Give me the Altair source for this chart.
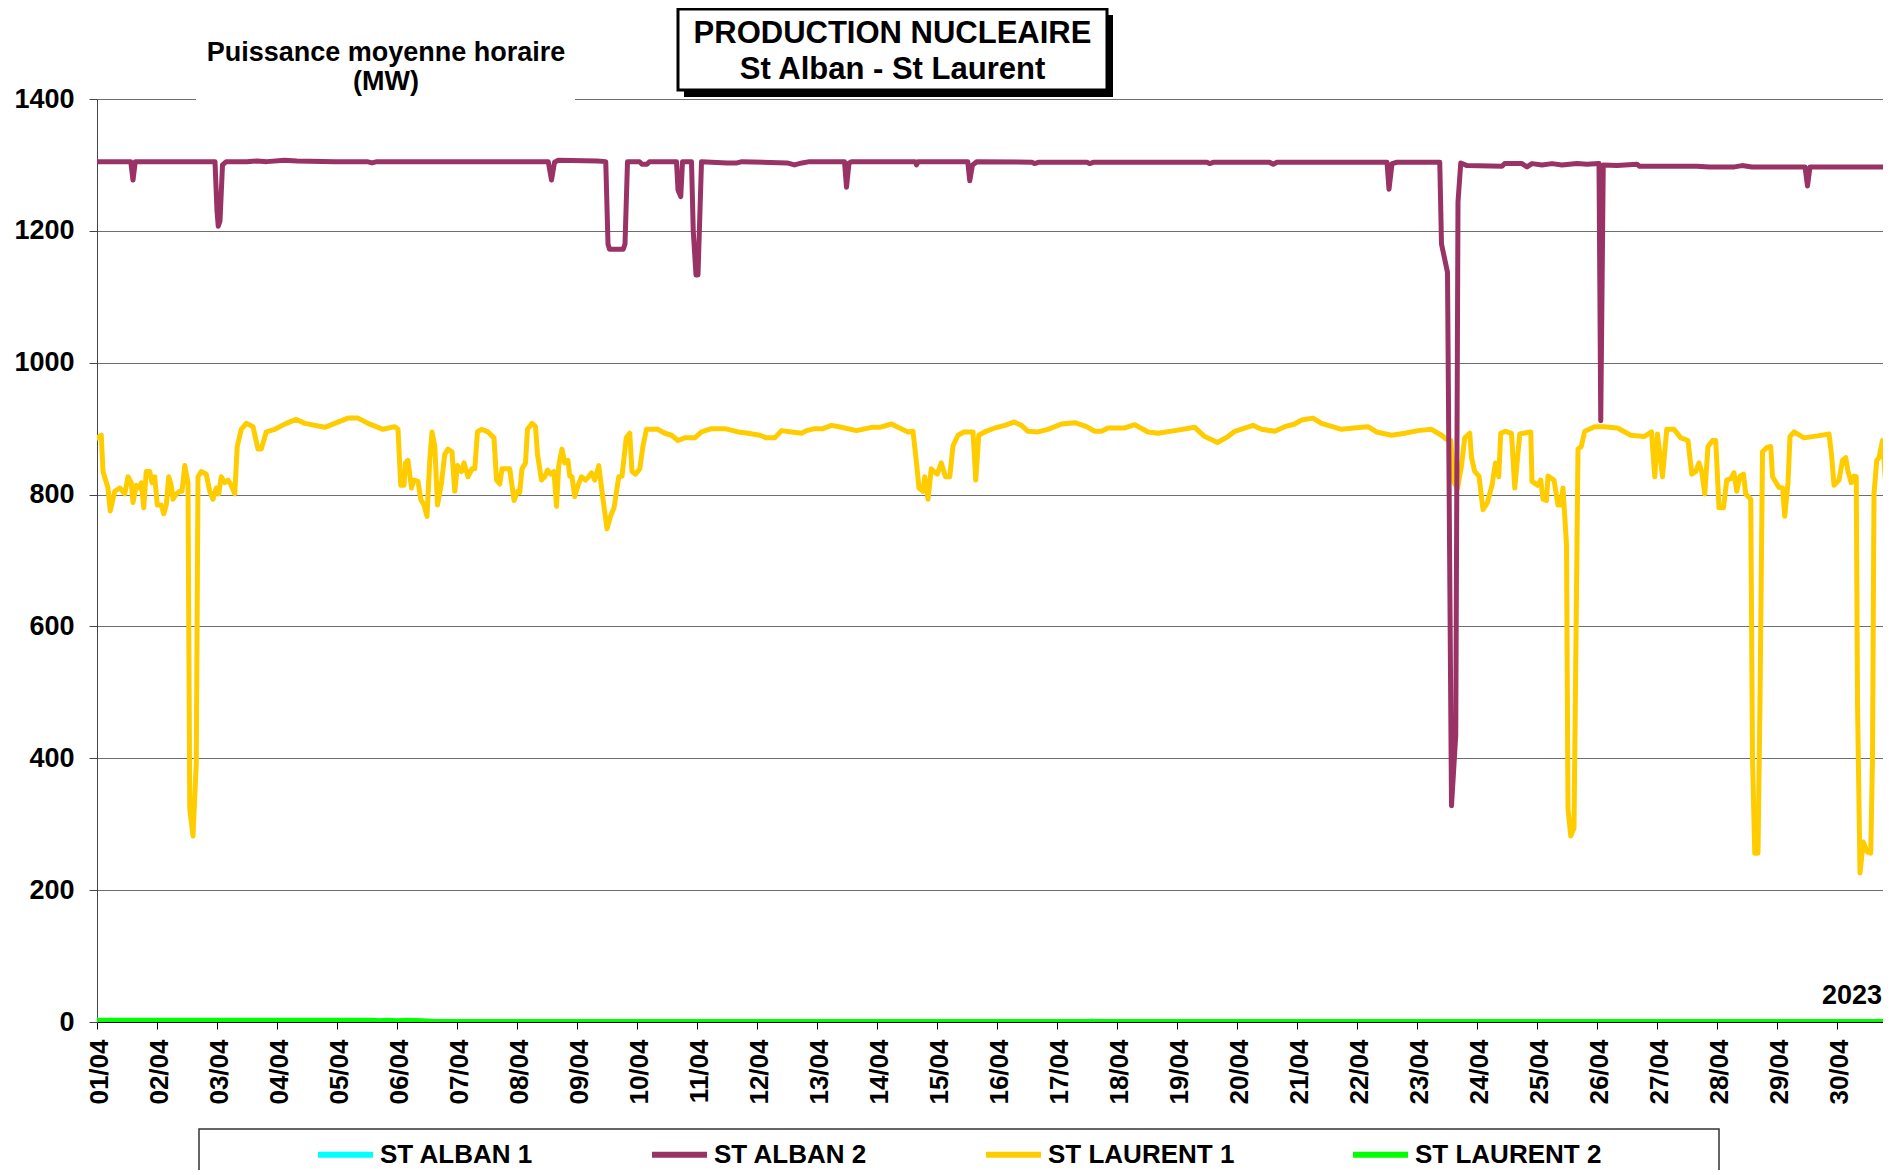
import json
import altair as alt
import pandas as pd

# ---------------- data ----------------
SERIES = ["ST ALBAN 1", "ST ALBAN 2", "ST LAURENT 1", "ST LAURENT 2"]
COLORS = ["#00FFFF", "#993366", "#FFCC00", "#00FF00"]

DAY_LABELS = ["01/04", "02/04", "03/04", "04/04", "05/04", "06/04", "07/04", "08/04",
              "09/04", "10/04", "11/04", "12/04", "13/04", "14/04", "15/04", "16/04",
              "17/04", "18/04", "19/04", "20/04", "21/04", "22/04", "23/04", "24/04",
              "25/04", "26/04", "27/04", "28/04", "29/04", "30/04"]
DAY_TICKS_H = [0, 24, 48, 72, 96, 120, 144, 168, 192, 216, 240, 264, 288, 312, 336,
               360, 384, 408, 432, 456, 480, 504, 528, 552, 576, 600, 624, 648, 672, 696]
Y_TICKS = [0, 200, 400, 600, 800, 1000, 1200, 1400]
YEAR_LABEL = "2023"
TITLE_LINES = ["PRODUCTION NUCLEAIRE", "St Alban - St Laurent"]
SUBTITLE_LINES = ["Puissance moyenne horaire", "(MW)"]

# (hour since 01/04 00:00, MW)
st_alban_1 = [(0, 0), (396, 0), (398, 2), (400, 0), (720, 0)]

st_alban_2 = [
    (0, 1305), (13.5, 1305), (14.4, 1277), (15.3, 1305), (47.2, 1305), (48.0, 1230),
    (48.5, 1207), (49.2, 1215), (50.2, 1300), (51.7, 1305), (60, 1305), (64, 1306),
    (68, 1305), (75, 1307), (80, 1306), (95, 1305), (108, 1305), (110, 1303), (112, 1305),
    (180.5, 1305), (181.8, 1277), (183, 1304), (184.5, 1307), (200, 1306), (203.5, 1305),
    (204.4, 1180), (205, 1172), (210.5, 1172), (211.2, 1180), (212.2, 1305), (217, 1305),
    (218, 1301), (220, 1301), (221, 1305), (231.8, 1305), (232.4, 1262), (233.5, 1252),
    (234.2, 1305), (237.8, 1305), (238.5, 1200), (239.6, 1133), (240.4, 1133),
    (241.8, 1305), (252, 1303), (256, 1303), (258, 1305), (276, 1303), (279, 1300),
    (282, 1303), (285, 1305), (299, 1305), (299.8, 1266), (300.8, 1303), (302, 1305),
    (327.3, 1305), (327.8, 1300), (328.5, 1305), (348.3, 1305), (349.1, 1276),
    (350.2, 1300), (352, 1305), (374, 1304), (375, 1302), (376.5, 1304), (396, 1304),
    (397, 1302), (398.5, 1304), (444, 1304), (445, 1302), (446.5, 1304), (469, 1304),
    (470.5, 1301), (472, 1304), (516, 1304), (516.8, 1263), (518, 1302), (520, 1304),
    (537.1, 1304), (537.8, 1180), (540.2, 1137), (541.8, 328), (543.5, 435),
    (544.4, 1244), (545.5, 1303), (548, 1299), (562, 1298), (563, 1302), (570, 1302),
    (572, 1297), (574, 1302), (578, 1300), (582, 1302), (586, 1300), (592, 1302),
    (596, 1301), (600.8, 1302), (601.5, 912), (602.5, 1300), (608, 1299), (616, 1301),
    (617, 1298), (640, 1298), (645, 1297), (655, 1297), (658, 1299), (662, 1297),
    (683.2, 1297), (684.2, 1268), (685.2, 1297), (717.5, 1297),
]

st_laurent_1 = [
    (0.1, 886), (1.7, 890), (2.4, 835), (4.4, 810), (5.3, 775), (7.1, 805), (9.1, 810),
    (11.1, 801), (12.4, 827), (13.7, 818), (14.4, 788), (15.7, 814), (17.1, 810),
    (17.7, 818), (18.7, 780), (19.7, 835), (21.1, 835), (22.0, 818), (23.1, 827),
    (24.1, 784), (25.7, 784), (26.7, 771), (27.7, 784), (28.7, 827), (29.7, 814),
    (30.4, 793), (31.7, 801), (33.1, 805), (34.0, 805), (35.1, 844), (36.4, 818),
    (37.1, 324), (38.4, 282), (39.7, 392), (40.4, 827), (41.7, 835), (43.7, 831),
    (45.1, 805), (46.4, 793), (47.7, 810), (48.7, 801), (49.7, 827), (51.1, 818),
    (52.4, 822), (53.7, 814), (55.1, 801), (56.1, 873), (57.7, 899), (59.7, 908),
    (62.4, 903), (64.4, 869), (65.7, 869), (67.7, 895), (71.1, 899), (75.7, 908),
    (79.7, 914), (83.1, 908), (91.1, 902), (95.1, 908), (100.4, 916), (104.4, 916),
    (108.4, 908), (114.4, 899), (119.1, 903),
    (120.4, 899), (121.5, 814), (122.8, 814), (123.4, 848), (124.4, 852), (125.8, 810),
    (126.8, 822), (128.4, 820), (129.5, 793), (130.8, 784), (132.0, 767), (133.1, 852),
    (134.0, 895), (135.1, 874), (136.2, 784), (137.8, 818), (139.1, 861), (140.4, 869),
    (142.0, 865), (143.1, 805), (144.2, 844), (145.8, 835), (146.8, 848), (148.4, 827),
    (150.0, 839), (151.1, 839), (152.2, 895), (153.8, 899), (156.4, 895), (158.8, 886),
    (159.8, 822), (161.1, 816), (162.0, 839), (165.1, 839), (166.8, 791), (168.2, 805),
    (169.1, 803), (170.0, 839), (171.4, 848), (172.2, 899), (174.0, 908), (175.4, 903),
    (176.2, 861), (177.8, 822), (179.1, 827), (180.2, 837), (181.5, 831), (182.8, 835),
    (183.8, 782), (184.7, 844), (186.0, 869), (187.1, 848), (188.4, 852), (189.1, 828),
    (190.0, 827), (191.1, 797), (192.4, 814), (193.8, 827), (195.4, 822), (196.7, 827),
    (197.8, 833), (199.1, 822), (200.7, 844), (202.4, 793), (204.0, 748), (205.4, 767),
    (206.8, 780), (208.7, 827), (210.0, 828), (211.7, 886), (213.1, 893), (214.0, 835),
    (215.4, 831), (217.1, 839), (218.4, 874), (219.8, 899), (224.4, 899), (227.1, 893),
    (229.8, 890), (232.4, 882), (235.1, 886), (239.1, 886),
    (241.8, 895), (245.8, 900), (251.1, 900), (256.4, 895), (260.4, 893), (265.1, 890),
    (267.8, 886), (271.1, 886), (273.8, 897), (277.8, 895), (281.8, 893), (283.8, 897),
    (287.1, 900), (290.4, 900), (293.8, 905), (297.8, 902), (303.8, 897), (309.8, 902),
    (313.1, 902), (317.8, 907), (320.4, 902), (324.4, 895), (326.4, 896), (327.8, 848),
    (328.8, 810), (330.4, 805), (331.1, 827), (332.4, 793), (333.7, 839), (334.8, 835),
    (336.1, 831), (337.7, 848), (339.4, 827), (341.1, 827), (342.4, 874), (344.4, 890),
    (346.8, 895), (350.4, 895), (351.5, 822), (352.7, 890), (355.1, 895), (359.1, 901),
    (363.1, 905), (366.8, 910), (369.8, 905), (372.4, 896), (376.4, 895), (380.4, 899),
    (385.8, 907), (391.1, 909), (395.8, 903), (399.1, 896), (401.8, 896), (404.4, 901),
    (411.1, 901), (415.1, 906), (420.4, 895), (424.4, 893), (431.1, 897), (439.1, 902),
    (443.1, 888), (448.2, 879), (452.4, 888), (455.1, 896), (462.4, 905), (465.8, 899),
    (471.1, 896), (475.1, 903), (479.1, 907),
    (481.8, 913), (486.4, 916), (489.8, 908), (497.8, 899), (505.8, 902), (508.4, 903),
    (511.8, 895), (517.8, 890), (523.1, 893), (528.4, 897), (533.8, 899), (537.8, 890),
    (539.8, 884), (541.5, 882), (542.8, 818), (544.2, 810), (545.8, 844), (547.1, 886),
    (549.1, 893), (549.8, 856), (551.1, 835), (552.8, 828), (554.4, 777), (556.2, 788),
    (558.0, 814), (559.4, 848), (560.7, 827), (561.5, 893), (563.4, 896), (565.8, 893),
    (567.1, 810), (569.1, 892), (573.5, 895), (574.0, 820), (576.2, 814), (577.5, 822),
    (578.4, 793), (579.8, 791), (580.4, 828), (582.8, 822), (584.4, 784), (585.4, 784),
    (586.4, 810), (587.8, 724), (588.4, 324), (589.5, 282), (590.8, 294), (592.4, 869),
    (593.7, 873), (595.1, 896), (599.1, 903),
    (602.8, 903), (608.2, 901), (613.5, 890), (618.8, 888), (621.8, 895), (623.1, 827),
    (624.2, 892), (626.2, 827), (627.9, 899), (630.8, 899), (633.5, 886), (636.4, 882),
    (637.9, 831), (639.5, 835), (640.8, 848), (641.9, 835), (643.1, 801), (644.4, 873),
    (646.2, 882), (647.5, 882), (648.8, 780), (650.6, 780), (651.9, 822), (653.5, 824),
    (654.8, 833), (655.9, 805), (657.2, 828), (658.6, 831), (659.5, 801), (661.5, 793),
    (662.2, 401), (663.1, 256), (664.4, 256), (665.2, 486), (666.2, 865), (667.8, 871),
    (669.5, 873), (670.2, 827), (672.8, 811), (674.2, 810), (675.1, 767), (676.4, 818),
    (677.2, 888), (678.8, 895), (682.8, 886), (688.2, 889), (692.8, 892), (693.8, 861),
    (694.8, 814), (696.8, 822), (698.2, 852), (699.5, 856), (700.4, 835), (701.7, 818),
    (702.8, 828), (703.7, 827), (704.2, 486), (705.2, 226), (706.5, 273), (708.1, 258),
    (709.5, 256), (710.2, 401), (710.8, 801), (711.9, 852), (712.8, 856), (714.2, 882),
    (715.5, 816), (717.5, 816),
]

st_laurent_2 = [(0, 3), (110, 3), (113, 2), (116, 3), (120, 2), (124, 3), (130, 2),
                (136, 1), (720, 1)]

# ---------------- layout constants ----------------
PLOT_W = 1786
PLOT_H = 923
PX_PER_DAY = 60
X_END = PLOT_W / PX_PER_DAY * 24
FONT = "Liberation Sans"


def frame(points, name):
    df = pd.DataFrame(points, columns=["h", "mw"])
    df["serie"] = name
    return df


frames = {
    "ST ALBAN 1": frame(st_alban_1, "ST ALBAN 1"),
    "ST ALBAN 2": frame(st_alban_2, "ST ALBAN 2"),
    "ST LAURENT 1": frame(st_laurent_1, "ST LAURENT 1"),
    "ST LAURENT 2": frame(st_laurent_2, "ST LAURENT 2"),
}

label_expr = json.dumps(DAY_LABELS) + "[round(datum.value / 24)]"

x_enc = alt.X(
    "h:Q",
    scale=alt.Scale(domain=[0, X_END], nice=False, zero=False),
    axis=alt.Axis(
        values=DAY_TICKS_H, labelExpr=label_expr, title=None, grid=False,
        labelAngle=270, labelFontSize=26, labelFont=FONT, labelFontWeight="bold",
        labelColor="black", tickSize=7, tickColor="black", tickWidth=1,
        domainColor="black", domainWidth=1, labelPadding=10, labelOverlap=False,
        labelFlush=False, labelOffset=2,
    ),
)
y_enc = alt.Y(
    "mw:Q",
    scale=alt.Scale(domain=[0, 1400], nice=False),
    axis=alt.Axis(
        values=Y_TICKS, format="d", title=None, grid=True, gridColor="#6e6e6e",
        gridWidth=1.2, labelFontSize=27, labelFont=FONT, labelFontWeight="bold",
        labelColor="black", tickSize=8, tickColor="#444444", domainColor="#444444",
        domainWidth=1, labelPadding=15,
    ),
)
color_enc = alt.Color(
    "serie:N",
    scale=alt.Scale(domain=SERIES, range=COLORS),
    legend=alt.Legend(
        title=None, orient="none", legendX=218, legendY=1025, direction="horizontal",
        symbolType="stroke", symbolSize=3025, symbolStrokeWidth=6,
        labelFontSize=26, labelFont=FONT, labelFontWeight="bold", labelColor="black",
        labelOffset=4, columnPadding=106, padding=0, labelLimit=0,
    ),
)


def line_layer(name, width):
    return alt.Chart(frames[name]).mark_line(
        strokeWidth=width, clip=True, strokeJoin="round", strokeCap="round"
    ).encode(x=x_enc, y=y_enc, color=color_enc)


one = pd.DataFrame({"k": [0]})

# white patch behind the subtitle (cuts the 1400 grid line)
sub_patch = alt.Chart(one).mark_rect(fill="white", stroke=None).encode(
    x=alt.value(99), x2=alt.value(478), y=alt.value(-60), y2=alt.value(4)
)
subtitle = alt.Chart(one).mark_text(
    text=SUBTITLE_LINES, font=FONT, fontSize=27, fontWeight="bold", color="black",
    align="center", baseline="alphabetic", lineHeight=29,
).encode(x=alt.value(289), y=alt.value(-38))

# title box with drop shadow
title_shadow = alt.Chart(one).mark_rect(fill="black").encode(
    x=alt.value(587), x2=alt.value(1016), y=alt.value(-84), y2=alt.value(-2)
)
title_box = alt.Chart(one).mark_rect(fill="white", stroke="black", strokeWidth=3).encode(
    x=alt.value(581), x2=alt.value(1010), y=alt.value(-90), y2=alt.value(-9)
)
title_text = alt.Chart(one).mark_text(
    text=TITLE_LINES, font=FONT, fontSize=31, fontWeight="bold", color="black",
    align="center", baseline="alphabetic", lineHeight=36,
).encode(x=alt.value(795.5), y=alt.value(-56))

year_text = alt.Chart(one).mark_text(
    text=YEAR_LABEL, font=FONT, fontSize=27, fontWeight="bold", color="black",
    align="right", baseline="alphabetic",
).encode(x=alt.value(1785), y=alt.value(905))

legend_box = alt.Chart(one).mark_rect(fill=None, stroke="#333333", strokeWidth=1.5).encode(
    x=alt.value(102), x2=alt.value(1622), y=alt.value(1030), y2=alt.value(1250)
)

chart = alt.layer(
    line_layer("ST ALBAN 1", 4.7),
    line_layer("ST LAURENT 1", 5),
    line_layer("ST ALBAN 2", 5),
    line_layer("ST LAURENT 2", 4.7),
    sub_patch, subtitle, title_shadow, title_box, title_text, year_text, legend_box,
).properties(
    width=PLOT_W, height=PLOT_H,
    autosize=alt.AutoSizeParams(type="none"),
    padding={"left": 89, "top": 91, "right": 0, "bottom": 148},
    background="white",
).configure_view(stroke=None)

chart.save("out.html", embed_options={"renderer": "svg", "actions": False})
